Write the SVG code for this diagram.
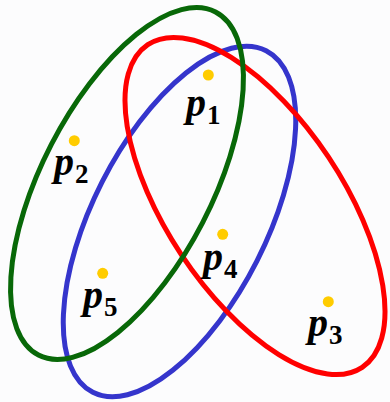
<svg xmlns="http://www.w3.org/2000/svg" width="390" height="402" viewBox="0 0 390 402">
<style>
.set{fill:none;stroke-width:5}
.pt{fill:#FFCC00}
.lbl{font-family:"Liberation Serif","Times New Roman",serif;fill:#000}
.p{font-size:40px;font-style:italic;font-weight:bold}
.s{font-size:27px;font-weight:bold}
</style>
<rect width="390" height="402" fill="#fcfcfd"/>
<g id="sets">
<ellipse id="blue" class="set" stroke="#3535CC" cx="179.5" cy="221.5" rx="191.5" ry="86.9" transform="rotate(-63.1 179.5 221.5)"/>
<ellipse id="red" class="set" stroke="#FF0000" cx="255" cy="206" rx="193.7" ry="88.3" transform="rotate(56.4 255 206)"/>
<ellipse id="green" class="set" stroke="#086808" cx="127" cy="183.5" rx="193.1" ry="85.1" transform="rotate(-62.7 127 183.5)"/>
</g>
<g id="p1"><circle class="pt" cx="208.3" cy="75" r="5.5"/><text class="lbl" x="186" y="116"><tspan class="p">p</tspan><tspan class="s" dx="1" dy="8">1</tspan></text></g>
<g id="p2"><circle class="pt" cx="74.3" cy="140.7" r="5.5"/><text class="lbl" x="54" y="175"><tspan class="p">p</tspan><tspan class="s" dx="1" dy="8">2</tspan></text></g>
<g id="p3"><circle class="pt" cx="328.3" cy="301.7" r="5.5"/><text class="lbl" x="308" y="336"><tspan class="p">p</tspan><tspan class="s" dx="1" dy="8">3</tspan></text></g>
<g id="p4"><circle class="pt" cx="222.7" cy="234.3" r="5.5"/><text class="lbl" x="203" y="270"><tspan class="p">p</tspan><tspan class="s" dx="1" dy="8">4</tspan></text></g>
<g id="p5"><circle class="pt" cx="102.7" cy="273.3" r="5.5"/><text class="lbl" x="83" y="308"><tspan class="p">p</tspan><tspan class="s" dx="1" dy="8">5</tspan></text></g>
</svg>
